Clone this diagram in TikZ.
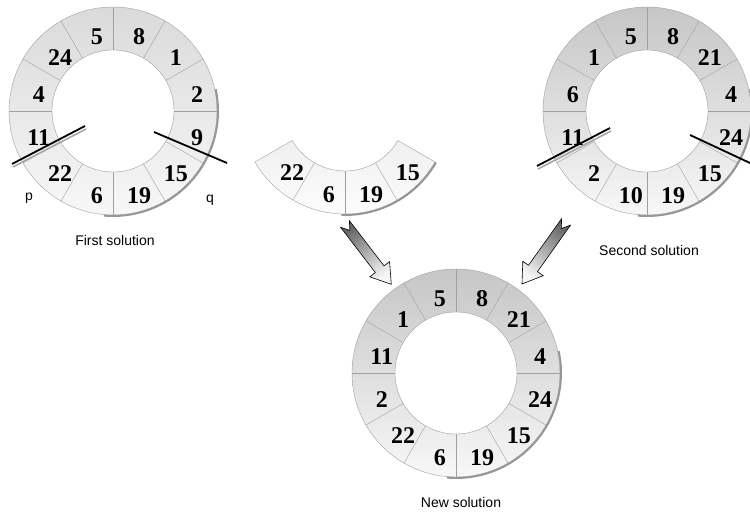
\documentclass[tikz,border=0pt]{standalone}
\usepackage{fontspec}
\setmainfont{Liberation Serif}
\setsansfont{Liberation Sans}
\usetikzlibrary{calc}

\definecolor{ringline}{RGB}{160,160,160}
\definecolor{rimshadow}{RGB}{150,150,150}
\definecolor{lightring}{RGB}{218,218,218}
\definecolor{darkring}{RGB}{198,198,198}

% ring of 12 cells, labels clockwise from the cell right of the top
\newcommand{\solring}[4]{%
  \coordinate (#3) at (#1);
  \shade[top color=#2, bottom color=white!97!black, even odd rule, draw=ringline]
    (#3) circle (104) (#3) circle (61);
  \foreach \a in {0,30,...,330}
    \draw[ringline] ($(#3)+(\a:61)$) -- ($(#3)+(\a:104)$);
  \draw[rimshadow, line width=2pt] ($(#3)+(-95:105)$) arc (-95:12:105);
  \foreach \v [count=\i] in {#4}
    \node[num] (#3-\i) at ($(#3)+(105-30*\i:82)+(5,-5)$) {\v};
}

\begin{document}
\begin{tikzpicture}[x=1pt, y=1pt,
  num/.style={font=\bfseries\fontsize{24}{24}\selectfont, inner sep=0pt},
  caption/.style={font=\sffamily\fontsize{14}{14}\selectfont, inner sep=0pt},
  cutline/.style={black, line width=1.8pt},
  cutshadow/.style={gray!70, line width=1.6pt},
  blockarrow/.style={draw=black, line width=0.6pt, top color=black!60, bottom color=black!4}]
\useasboundingbox (0,0) rectangle (750,525);

\solring{113,414}{lightring}{first}{8,1,2,9,15,19,6,22,11,4,24,5}
\solring{647,414}{darkring}{second}{8,21,4,24,15,19,10,2,11,6,1,5}
\solring{456,152}{darkring}{new}{8,21,4,24,15,19,6,22,2,11,1,5}

% the cut piece
\coordinate (piece) at (345,415);
\shade[top color=gray!12, bottom color=white, draw=ringline]
  ($(piece)+(-150:61)$) arc (-150:-30:61) -- ($(piece)+(-30:104)$)
  arc (-30:-150:104) -- cycle;
\foreach \a in {-120,-90,-60}
  \draw[ringline] ($(piece)+(\a:61)$) -- ($(piece)+(\a:104)$);
\draw[rimshadow, line width=2pt] ($(piece)+(-92:105)$) arc (-92:-30:105);
\node[num] (piece-1) at ($(piece)+(225:82)+(5,-5)$) {22};
\node[num] (piece-2) at ($(piece)+(255:82)+(5,-5)$) {6};
\node[num] (piece-3) at ($(piece)+(285:82)+(5,-5)$) {19};
\node[num] (piece-4) at ($(piece)+(315:82)+(5,-5)$) {15};

% cut points
\draw[cutshadow] (13,358) -- (86,396);
\draw[cutline] (12,361) -- (85,399);
\draw[cutline] (154,393) -- (227,362);
\draw[cutshadow] (538,356) -- (611,394);
\draw[cutline] (537,359) -- (610,397);
\draw[cutline] (690,390) -- (750,362);

\node[caption] (p) at (29,327) {p};
\node[caption] (q) at (210,325) {q};

% arrows into the new solution
\begin{scope}[shift={(345,301)}, rotate=-52.5]
  \shade[blockarrow, shading angle=37.5]
    (0,5.5) -- (57,5.5) -- (57,12.5) -- (76,0) -- (57,-12.5) -- (57,-5.5)
    -- (0,-5.5) -- (8,0) -- cycle;
\end{scope}
\begin{scope}[shift={(566,303)}, rotate=-125.4]
  \shade[blockarrow, shading angle=-35.4]
    (0,5.5) -- (57,5.5) -- (57,12.5) -- (76,0) -- (57,-12.5) -- (57,-5.5)
    -- (0,-5.5) -- (8,0) -- cycle;
\end{scope}

\node[caption] (firstlabel) at (115,285) {First solution};
\node[caption] (secondlabel) at (649,275) {Second solution};
\node[caption] (newlabel) at (461,23) {New solution};
\end{tikzpicture}
\end{document}
